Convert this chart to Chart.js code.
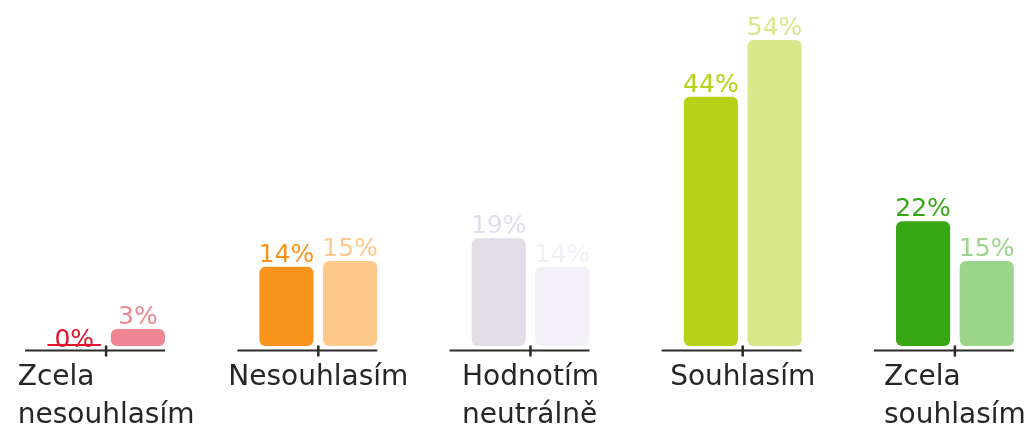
<!DOCTYPE html>
<html>
<head>
<meta charset="utf-8">
<script src="https://cdn.jsdelivr.net/npm/chart.js@4/dist/chart.umd.min.js"></script>
<style>
  html, body { margin: 0; padding: 0; background: #fff; overflow: hidden; }
  body { width: 1030px; height: 429px; }
  /* the original chart is cut off at the right edge */
  #wrap { width: 1061px; height: 429px; }
</style>
</head>
<body>
<div id="wrap"><canvas id="c"></canvas></div>
<script>
const categories = [['Zcela', 'nesouhlasím'], 'Nesouhlasím', ['Hodnotím', 'neutrálně'], 'Souhlasím', ['Zcela', 'souhlasím']];
const firstValues = [0, 14, 19, 44, 22];
const secondValues = [3, 15, 14, 54, 15];
const firstColors = ['#e3142d', '#f8931b', '#e2dde9', '#b6d118', '#37a614'];
const secondColors = ['#f08593', '#ffc98c', '#f2f0f6', '#d9e78b', '#9cd589'];

const FONT = '"DejaVu Sans", Verdana, sans-serif';

// value labels above each bar, in the bar's colour
const valueLabels = {
    id: 'valueLabels',
    afterDatasetsDraw(chart) {
        const ctx = chart.ctx;
        ctx.save();
        ctx.font = '25px ' + FONT;
        ctx.textAlign = 'center';
        ctx.textBaseline = 'alphabetic';
        chart.data.datasets.forEach((ds, di) => {
            chart.getDatasetMeta(di).data.forEach((bar, i) => {
                const y = ds.data[i] === 0 ? bar.base + 1 : bar.y - 5;
                ctx.fillStyle = ds.backgroundColor[i];
                ctx.fillText(ds.data[i] + '%', bar.x, y);
            });
        });
        ctx.restore();
    }
};

// short baseline under each category with a tick, plus left-aligned labels
const categoryAxis = {
    id: 'categoryAxis',
    afterDraw(chart) {
        const ctx = chart.ctx;
        const x = chart.scales.x;
        const base = chart.scales.y.getPixelForValue(0) + 4.5;
        ctx.save();
        ctx.strokeStyle = '#2b2b2b';
        ctx.fillStyle = '#262626';
        ctx.font = '28px ' + FONT;
        ctx.textAlign = 'left';
        categories.forEach((cat, i) => {
            const px = x.getPixelForValue(i);
            ctx.lineWidth = 2;
            ctx.beginPath();
            ctx.moveTo(px - 81, base);
            ctx.lineTo(px + 59, base);
            ctx.stroke();
            ctx.lineWidth = 2.5;
            ctx.beginPath();
            ctx.moveTo(px, base - 5);
            ctx.lineTo(px, base + 6);
            ctx.stroke();

            const lines = Array.isArray(cat) ? cat : [cat];
            const w = Math.max(...lines.map(l => ctx.measureText(l).width));
            lines.forEach((l, j) => {
                ctx.fillText(l, px - w / 2, base + 34.5 + j * 38);
            });
        });
        ctx.restore();
    }
};

new Chart(document.getElementById('c'), {
    type: 'bar',
    data: {
        labels: categories,
        datasets: [
            {
                data: firstValues,
                backgroundColor: firstColors,
                borderRadius: 6,
                borderSkipped: false,
                minBarLength: 2
            },
            {
                data: secondValues,
                backgroundColor: secondColors,
                borderRadius: 6,
                borderSkipped: false,
                minBarLength: 2
            }
        ]
    },
    options: {
        responsive: true,
        maintainAspectRatio: false,
        animation: false,
        layout: { padding: { left: 0, right: 0, top: 6, bottom: 83 } },
        datasets: { bar: { categoryPercentage: 0.6, barPercentage: 0.85 } },
        scales: {
            x: { display: false },
            y: { display: false, min: 0, max: 60 }
        },
        plugins: {
            legend: { display: false },
            tooltip: { enabled: false }
        }
    },
    plugins: [valueLabels, categoryAxis]
});
</script>
</body>
</html>
